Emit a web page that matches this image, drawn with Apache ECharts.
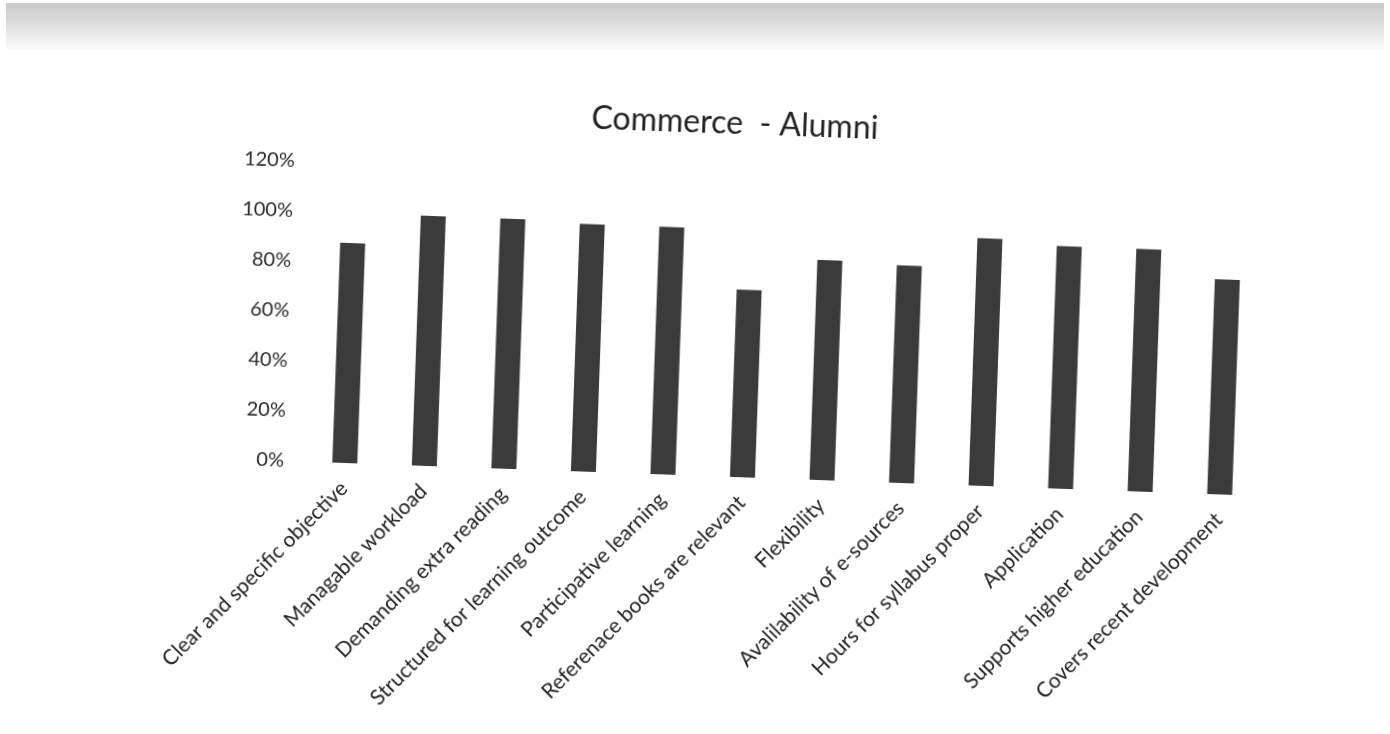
<!DOCTYPE html>
<html>
<head>
<meta charset="utf-8">
<script src="https://cdn.jsdelivr.net/npm/echarts@6/dist/echarts.min.js"></script>
<style>
  html, body { margin: 0; padding: 0; background: #ffffff; overflow: hidden; }
  #band { position: absolute; left: 6px; top: 3px; width: 1378px; height: 46px;
          background: linear-gradient(to bottom, #c9c9c9 0%, #dedede 45%, #fbfbfb 100%); }
  #chart { position: absolute; left: 0; top: 0; width: 1390px; height: 734px;
           transform: rotate(2.06deg); transform-origin: 345px 463px; }
</style>
</head>
<body>
<div id="band"></div>
<div id="chart"></div>
<script>
// Survey items rated by commerce alumni
const categories = [
  'Clear and specific objective',
  'Managable workload',
  'Demanding extra reading',
  'Structured for learning outcome',
  'Participative learning',
  'Referenace books are relevant',
  'Flexibility',
  'Avalilability of e-sources',
  'Hours for syllabus proper',
  'Application',
  'Supports higher education',
  'Covers recent development'
];
// Share of positive responses, in percent
const values = [88, 100, 100, 99, 99, 75, 88, 87, 99, 97, 97, 86];
// Value axis range
const yMin = 0;
const yMax = 120;
const yStep = 20;

const chart = echarts.init(document.getElementById('chart'), null, { renderer: 'canvas' });
const font = 'Lato, "Open Sans", sans-serif';

chart.setOption({
  backgroundColor: 'transparent',
  animation: false,
  title: {
    text: 'Commerce  - Alumni',
    left: 579,
    top: 94,
    padding: 0,
    textStyle: { fontFamily: font, fontSize: 32, fontWeight: 'normal', color: '#222' }
  },
  grid: { left: 305, right: 130, top: 163, bottom: 271 },
  xAxis: {
    type: 'category',
    data: categories,
    axisLine: { show: false },
    axisTick: { show: false },
    axisLabel: {
      interval: 0,
      rotate: 47,
      margin: 22,
      fontFamily: font,
      fontSize: 21,
      color: '#222'
    }
  },
  yAxis: {
    type: 'value',
    min: yMin,
    max: yMax,
    interval: yStep,
    axisLine: { show: false },
    axisTick: { show: false },
    splitLine: { show: false },
    axisLabel: {
      formatter: '{value}%',
      margin: 21,
      fontFamily: font,
      fontSize: 20,
      color: '#2a2a2a'
    }
  },
  series: [{
    type: 'bar',
    data: values,
    barWidth: 25,
    itemStyle: { color: '#3b3b3b' }
  }]
});
</script>
</body>
</html>
